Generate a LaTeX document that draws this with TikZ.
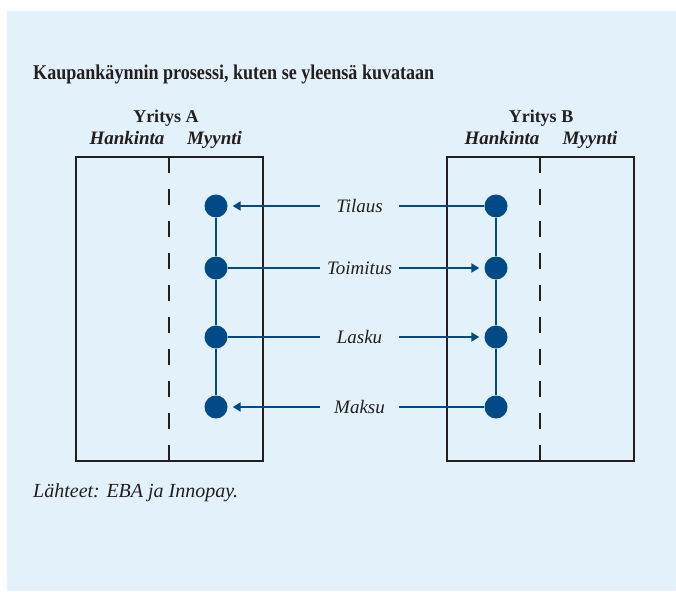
\documentclass[tikz,border=0pt]{standalone}
\usepackage{fontspec}
\setmainfont{Liberation Serif}
\newfontfamily\titlefont[FakeStretch=0.86]{Liberation Serif}
\usetikzlibrary{arrows.meta}
\definecolor{bg}{HTML}{E3F2FA}
\definecolor{dotblue}{HTML}{004A87}
\definecolor{ink}{HTML}{231F20}
\begin{document}
\begin{tikzpicture}[x=1pt,y=-1pt,
  dot/.style={circle,fill=dotblue,minimum size=23pt,inner sep=0pt},
  boxline/.style={draw=ink,line width=2.6pt},
  divider/.style={draw=ink,line width=2.2pt,dash pattern=on 16pt off 16pt},
  flow/.style={draw=dotblue,line width=2.2pt},
  tip/.style={-{Triangle[length=8pt,width=9pt]},shorten >=5pt},
  link/.style={draw=dotblue,line width=1.2pt},
  lab/.style={minimum width=79pt,inner sep=0pt,text=ink,font=\fontsize{19}{22}\selectfont\itshape},
  hdr/.style={text=ink,inner sep=0pt,anchor=base,font=\fontsize{18}{21}\selectfont\bfseries},
  sub/.style={text=ink,inner sep=0pt,anchor=base,font=\fontsize{19}{22}\selectfont\bfseries\itshape},
  title/.style={text=ink,inner sep=0pt,anchor=base west,font=\titlefont\fontsize{21}{25}\selectfont\bfseries},
  note/.style={text=ink,inner sep=0pt,anchor=base west,font=\fontsize{20}{24}\selectfont\itshape}]
\useasboundingbox (0,0) rectangle (676,591);
\fill[white] (0,0) rectangle (676,591);
\fill[bg] (7,11) rectangle (676,591);

\node[title] (ttl) at (33,80) {Kaupankäynnin prosessi, kuten se yleensä kuvataan};

% company A
\node[hdr] (ya) at (166,122) {Yritys A};
\node[sub] (ha) at (127,144) {Hankinta};
\node[sub] (ma) at (214.5,144) {Myynti};
\draw[boxline] (76,157) rectangle (263,461);
\draw[divider] (169,157) -- (169,461);

% company B
\node[hdr] (yb) at (541,122) {Yritys B};
\node[sub] (hb) at (502,144) {Hankinta};
\node[sub] (mb) at (590,144) {Myynti};
\draw[boxline] (447,157) rectangle (634,461);
\draw[divider] (540,157) -- (540,461);

% dots
\foreach \i/\y in {1/206,2/268,3/337,4/407}{
  \node[dot] (a\i) at (216,\y) {};
  \node[dot] (b\i) at (496,\y) {};
}
\draw[link] (a1) -- (a2) (a2) -- (a3) (a3) -- (a4);
\draw[link] (b1) -- (b2) (b2) -- (b3) (b3) -- (b4);

% labels
\node[lab] (t1) at (359.5,206) {Tilaus};
\node[lab] (t2) at (359.5,268) {Toimitus};
\node[lab] (t3) at (359.5,337) {Lasku};
\node[lab] (t4) at (359.5,407) {Maksu};

% flows
\draw[flow] (b1) -- (t1.east);
\draw[flow,tip] (t1.west) -- (a1);
\draw[flow] (a2) -- (t2.west);
\draw[flow,tip] (t2.east) -- (b2);
\draw[flow] (a3) -- (t3.west);
\draw[flow,tip] (t3.east) -- (b3);
\draw[flow] (b4) -- (t4.east);
\draw[flow,tip] (t4.west) -- (a4);

\node[note] (src) at (33,497) {Lähteet: EBA ja Innopay.};
\end{tikzpicture}
\end{document}
